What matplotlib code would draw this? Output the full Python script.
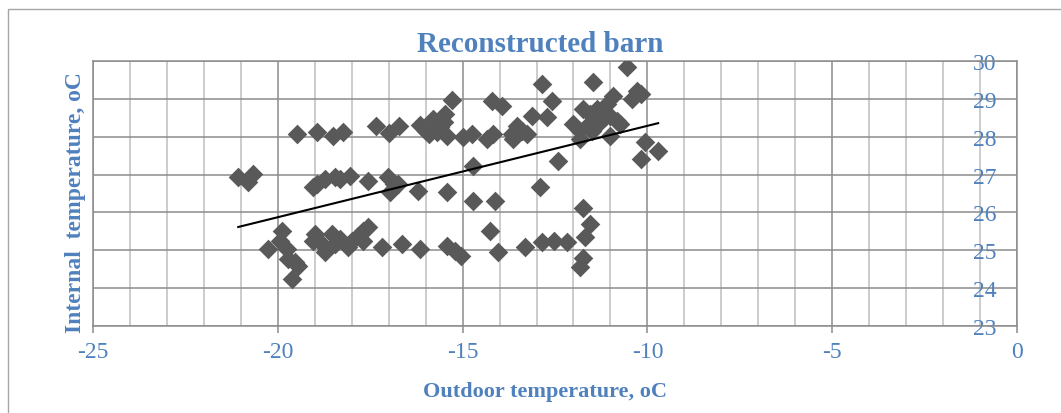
import numpy as np
import matplotlib.pyplot as plt
from matplotlib.patches import Rectangle

# Outdoor temperature (x) and internal temperature (y)
outdoor = np.array([
    # upper band
    -19.49, -18.95, -18.51, -18.23, -17.34, -16.98, -16.71, -16.15, -16.00, -15.90,
    -15.79, -15.70, -15.61, -15.50, -15.48, -15.43, -15.28, -14.98, -14.75, -14.35,
    -14.21, -14.17, -13.94, -13.67, -13.63, -13.54, -13.40, -13.27, -13.13, -12.86,
    -12.72, -12.59, -12.41, -12.00, -11.82, -11.82, -11.73, -11.64, -11.55, -11.51,
    -11.46, -11.46, -11.37, -11.33, -11.28, -11.15, -11.10, -11.01, -11.01, -10.92,
    -10.83, -10.74, -10.56, -10.43, -10.29, -10.16, -10.07, -10.16, -9.71,
    # middle band
    -21.07, -20.80, -20.66, -19.04, -18.95, -18.72, -18.45, -18.32, -18.05, -17.55,
    -17.01, -16.96, -16.85, -16.74, -16.20, -15.43, -14.71, -14.71, -14.12, -12.91,
    # lower band
    -20.26, -19.89, -19.94, -19.76, -19.72, -19.45, -19.53, -19.62, -18.99, -19.04,
    -18.86, -18.72, -18.54, -18.45, -18.32, -18.09, -18.00, -17.82, -17.69, -17.69,
    -17.55, -17.19, -16.65, -16.15, -15.43, -15.21, -15.05, -14.26, -14.03, -13.31,
    -12.86, -12.52, -12.17, -11.73, -11.55, -11.69, -11.73, -11.82,
])
internal = np.array([
    28.07, 28.12, 28.02, 28.13, 28.27, 28.11, 28.27, 28.31, 28.15, 28.07,
    28.47, 28.12, 28.25, 28.40, 28.60, 28.03, 28.98, 27.98, 28.07, 27.94,
    28.95, 28.07, 28.82, 28.07, 27.94, 28.29, 28.16, 28.07, 28.55, 29.39,
    28.51, 28.95, 27.37, 28.34, 28.16, 27.94, 28.73, 28.29, 28.60, 28.16,
    28.42, 29.44, 28.73, 28.34, 28.55, 28.51, 28.86, 28.55, 28.02, 29.08,
    28.42, 28.34, 29.83, 29.00, 29.22, 29.13, 27.85, 27.41, 27.63,
    26.93, 26.80, 27.01, 26.66, 26.75, 26.88, 26.93, 26.88, 26.97, 26.84,
    26.93, 26.53, 26.75, 26.75, 26.57, 26.53, 27.23, 26.31, 26.31, 26.66,
    25.03, 25.52, 25.25, 25.03, 24.77, 24.59, 24.68, 24.24, 25.43, 25.25,
    25.21, 24.95, 25.43, 25.17, 25.30, 25.08, 25.25, 25.39, 25.25, 25.52,
    25.61, 25.08, 25.17, 25.03, 25.10, 24.99, 24.86, 25.52, 24.95, 25.08,
    25.21, 25.24, 25.21, 26.13, 25.69, 25.34, 24.79, 24.55,
])

x_ticks = [-25, -20, -15, -10, -5, 0]
y_ticks = [23, 24, 25, 26, 27, 28, 29, 30]

blue = '#4F81BD'
plt.rcParams['font.family'] = ['Liberation Serif', 'DejaVu Serif']
plt.rcParams['axes.unicode_minus'] = False

fig = plt.figure(figsize=(10.61, 4.14), dpi=100)
ax = fig.add_axes([93 / 1061, 1 - 327 / 414, (1017 - 93) / 1061, (327 - 62) / 414])

# linear trend line (least squares)
coef = np.polyfit(outdoor, internal, 1)
trend = np.poly1d(coef)
xs = np.linspace(outdoor.min(), outdoor.max(), 50)

ax.scatter(outdoor, internal, marker='D', s=100, color='#595959', linewidths=0, zorder=3)
ax.plot(xs, trend(xs), color='black', lw=1.5, zorder=4)

ax.set_xlim(-25, 0)
ax.set_ylim(23, 30)
ax.set_xticks(x_ticks)
ax.set_xticks(np.arange(-25, 1, 1), minor=True)
ax.set_yticks(y_ticks)

ax.grid(which='minor', axis='x', color='#BFBFBF', lw=1.1)
ax.grid(which='major', axis='x', color='#8C8C8C', lw=1.1)
ax.grid(which='major', axis='y', color='#8C8C8C', lw=1.1)
ax.set_axisbelow(True)

for s in ax.spines.values():
    s.set_color('#8C8C8C')
    s.set_linewidth(1.1)

ax.tick_params(axis='x', which='major', direction='out', length=5, width=1.1,
               color='#8C8C8C', labelsize=17, labelcolor=blue, pad=6)
ax.tick_params(axis='x', which='minor', length=0)
ax.yaxis.tick_right()
ax.tick_params(axis='y', length=0, labelsize=17, labelcolor=blue, pad=-15)
for lab in ax.get_yticklabels():
    lab.set_horizontalalignment('right')

fig.text(540 / 1061, 1 - 45 / 414, 'Reconstructed barn', ha='center', va='center',
         fontsize=21, fontweight='bold', color=blue)
fig.text(545 / 1061, 1 - 392 / 414, 'Outdoor temperature, oC', ha='center', va='center',
         fontsize=16, fontweight='bold', color=blue)
fig.text(75 / 1061, 1 - 203 / 414, 'Internal  temperature, oC', ha='center', va='center',
         rotation=90, fontsize=17, fontweight='bold', color=blue)

# chart border
fig.patches.append(Rectangle((8 / 1061, -0.01), 1.1, 1 - 10 / 414 + 0.01,
                             transform=fig.transFigure, fill=False,
                             edgecolor='#A6A6A6', lw=1.0))

fig.savefig('out.png', dpi=100)
